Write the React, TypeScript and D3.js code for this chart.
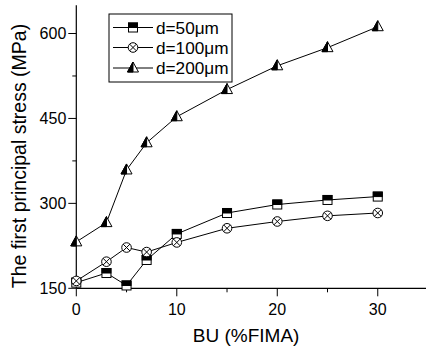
import React from "react";
import * as d3 from "d3";

const bu = [0, 3, 5, 7, 10, 15, 20, 25, 30];
const d50 = [160, 177, 155, 200, 246, 283, 298, 306, 312];
const d100 = [163, 197, 222, 214, 231, 256, 268, 278, 283];
const d200 = [232, 266, 359, 407, 453, 501, 543, 575, 612];
const seriesNames = ["d=50\u03BCm", "d=100\u03BCm", "d=200\u03BCm"];
const yTicks = [150, 300, 450, 600];
const yMinor = [225, 375, 525];
const xTicks = [0, 10, 20, 30];
const xMinor = [5, 15, 25, 35];

const W = 426;
const H = 348;
const FONT = "Liberation Sans, Arial, Helvetica, sans-serif";

const x = d3.scaleLinear().domain([0, 35]).range([76.3, 428]);
const y = d3.scaleLinear().domain([150, 650]).range([288.3, 5.2]);

function Marker({ kind, cx, cy }: { kind: number; cx: number; cy: number }) {
  if (kind === 0) {
    const s = 4.5;
    return (
      <g>
        <rect x={cx - s} y={cy - s} width={2 * s} height={2 * s} fill="#fff" stroke="#000" strokeWidth={1} />
        <rect x={cx - s} y={cy - s} width={2 * s} height={s} fill="#000" stroke="#000" strokeWidth={1} />
      </g>
    );
  }
  if (kind === 1) {
    const r = 4.8;
    const k = r * 0.707;
    return (
      <g stroke="#000" strokeWidth={1} fill="#fff">
        <circle cx={cx} cy={cy} r={r} />
        <line x1={cx - k} y1={cy - k} x2={cx + k} y2={cy + k} />
        <line x1={cx - k} y1={cy + k} x2={cx + k} y2={cy - k} />
      </g>
    );
  }
  const h = 10;
  const w = 5.5;
  const top = cy - h * 0.6;
  const bot = cy + h * 0.4;
  return (
    <g>
      <path d={`M${cx},${top}L${cx + w},${bot}L${cx - w},${bot}Z`} fill="#fff" stroke="#000" strokeWidth={1} />
      <path d={`M${cx},${top}L${cx},${bot}L${cx - w},${bot}Z`} fill="#000" stroke="#000" strokeWidth={1} />
    </g>
  );
}

export default function App() {
  const all = [d50, d100, d200];
  const line = d3
    .line<number>()
    .x((_, i) => x(bu[i]))
    .y((v) => y(v));
  const legendRows = [27.5, 47.5, 68];
  return (
    <svg width={W} height={H} style={{ position: "absolute", left: 0, top: 0, background: "#fff" }} fontFamily={FONT}>
      <rect x={0} y={0} width={W} height={H} fill="#fff" />
      {/* axes */}
      <line x1={x(0)} y1={y(650)} x2={x(0)} y2={y(150)} stroke="#000" strokeWidth={1.2} />
      <line x1={x(0)} y1={y(150)} x2={W} y2={y(150)} stroke="#000" strokeWidth={1.2} />
      {yTicks.map((t) => (
        <g key={"y" + t}>
          <line x1={x(0) - 8} x2={x(0)} y1={y(t)} y2={y(t)} stroke="#000" strokeWidth={1} />
          <text x={x(0) - 10} y={y(t) + 5.5} textAnchor="end" fontSize={16}>
            {t}
          </text>
        </g>
      ))}
      {yMinor.map((t) => (
        <line key={"ym" + t} x1={x(0) - 4} x2={x(0)} y1={y(t)} y2={y(t)} stroke="#000" strokeWidth={1} />
      ))}
      {xTicks.map((t) => (
        <g key={"x" + t}>
          <line x1={x(t)} x2={x(t)} y1={y(150)} y2={y(150) + 8} stroke="#000" strokeWidth={1} />
          <text x={x(t)} y={314.5} textAnchor="middle" fontSize={16}>
            {t}
          </text>
        </g>
      ))}
      {xMinor.map((t) => (
        <line key={"xm" + t} x1={x(t)} x2={x(t)} y1={y(150)} y2={y(150) + 4} stroke="#000" strokeWidth={1} />
      ))}
      <text x={(x(0) + 378) / 2 + 19} y={342} textAnchor="middle" fontSize={19}>
        BU (%FIMA)
      </text>
      <text transform={`translate(26,156) rotate(-90)`} textAnchor="middle" fontSize={19.5}>
        The first principal stress (MPa)
      </text>
      {/* series */}
      {all.map((s, k) => (
        <g key={"s" + k}>
          <path d={line(s) || ""} fill="none" stroke="#000" strokeWidth={1} />
          {s.map((v, i) => (
            <Marker key={i} kind={k} cx={x(bu[i])} cy={y(v)} />
          ))}
        </g>
      ))}
      {/* legend */}
      <rect x={109} y={14} width={123} height={68} fill="#fff" stroke="#000" strokeWidth={1} />
      {seriesNames.map((n, k) => (
        <g key={"l" + k}>
          <line x1={113} x2={153} y1={legendRows[k]} y2={legendRows[k]} stroke="#000" strokeWidth={1} />
          <Marker kind={k} cx={133} cy={legendRows[k]} />
          <text x={156} y={legendRows[k] + 6} fontSize={17.2}>
            {n}
          </text>
        </g>
      ))}
    </svg>
  );
}
